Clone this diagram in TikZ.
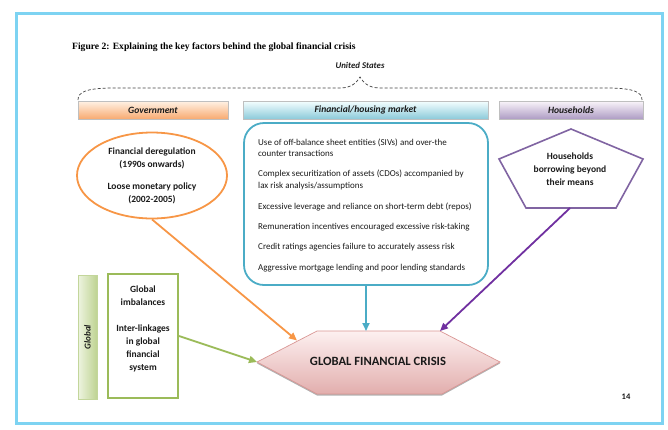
\documentclass[tikz,border=0pt]{standalone}
\usepackage{fontspec}
\setmainfont{Carlito}
\newfontfamily\timesf{Liberation Serif}
\usetikzlibrary{arrows.meta,shapes.geometric,shadows}
\definecolor{frameblue}{HTML}{7DD3F2}
\definecolor{orangeL}{HTML}{F79646}
\definecolor{blueL}{HTML}{4BACC6}
\definecolor{purpleL}{HTML}{7030A0}
\definecolor{pentL}{HTML}{8064A2}
\definecolor{greenL}{HTML}{9BBB59}
\definecolor{gfcB}{HTML}{D99694}
\definecolor{txt}{HTML}{1A1A1A}
\tikzset{
  hdr/.style={minimum height=18pt, inner sep=0pt, draw=black!25, line width=0.4pt,
    font=\bfseries\itshape\fontsize{9.6}{10}\selectfont, text=txt,
    drop shadow={shadow xshift=0.8pt, shadow yshift=-1pt, fill=black!35}},
  itemtxt/.style={anchor=west, inner sep=0pt, align=left, text=txt,
    font=\fontsize{9}{11.5}\selectfont},
  ctxt/.style={inner sep=0pt, align=center, text=txt,
    font=\bfseries\fontsize{9.5}{13}\selectfont},
  conn/.style={line width=1.8pt, -{Triangle[length=8pt,width=7pt]}},
}
\begin{document}
\begin{tikzpicture}[x=1pt,y=-1pt]
\useasboundingbox (0,0) rectangle (668,429);
\draw[frameblue, line width=3pt] (16,13) rectangle (662,423);

\node[anchor=west, inner sep=0pt, font=\timesf\bfseries\fontsize{9.6}{10}\selectfont] (title) at (72,47)
  {Figure 2: Explaining the key factors behind the global financial crisis};

\node[inner sep=0pt, text=txt, font=\bfseries\itshape\fontsize{8.8}{9}\selectfont] (us) at (360,65) {United States};

% dashed brace
\draw[black!75, dash pattern=on 3pt off 2pt, line width=0.7pt]
  (78,100) .. controls (78,92) and (86,88.5) .. (110,88) -- (340,88)
  .. controls (352,88) and (357,82) .. (360,77)
  .. controls (363,82) and (368,88) .. (380,88) -- (610,88)
  .. controls (634,88.5) and (642,92) .. (642,100);

% header bars
\node[hdr, minimum width=150pt, top color=orange!10, bottom color={rgb,255:red,248;green,170;blue,112}] (govh) at (153,110) {Government};
\node[hdr, minimum width=245pt, top color=cyan!4, bottom color={rgb,255:red,140;green,202;blue,218}] (finh) at (365.5,110) {Financial/housing market};
\node[hdr, minimum width=144pt, top color=violet!4, bottom color={rgb,255:red,174;green,156;blue,196}] (hhh) at (571,110) {Households};

% government ellipse
\node[ellipse, draw=orangeL, line width=1.8pt, minimum width=150pt, minimum height=86pt, ctxt] (gov) at (152,175.5)
  {Financial deregulation\\(1990s onwards)\\[9pt]Loose monetary policy\\(2002-2005)};

% financial box
\node[draw=blueL, line width=1.8pt, rounded corners=20pt, minimum width=244pt, minimum height=162pt] (fin) at (366,204) {};
\node[itemtxt] (f1) at (258,147.5) {Use of off-balance sheet entities (SIVs) and over-the\\counter transactions};
\node[itemtxt] (f2) at (258,180) {Complex securitization of assets (CDOs) accompanied by\\lax risk analysis/assumptions};
\node[itemtxt] (f3) at (258,207) {Excessive leverage and reliance on short-term debt (repos)};
\node[itemtxt] (f4) at (258,227) {Remuneration incentives encouraged excessive risk-taking};
\node[itemtxt] (f5) at (258,247) {Credit ratings agencies failure to accurately assess risk};
\node[itemtxt] (f6) at (258,268) {Aggressive mortgage lending and poor lending standards};

% households pentagon
\coordinate (p1) at (571,129);
\coordinate (p2) at (643,159);
\coordinate (p3) at (616,208);
\coordinate (p4) at (526,208);
\coordinate (p5) at (499,159);
\draw[pentL, line width=1.6pt, line join=miter] (p1) -- (p2) -- (p3) -- (p4) -- (p5) -- cycle;
\node[ctxt] (hh) at (570,169) {Households\\borrowing beyond\\their means};
\coordinate (hhb) at (570,208);

% global bar and box
\node[rotate=90, minimum width=124pt, minimum height=19pt, inner sep=0pt, draw={rgb,255:red,195;green,214;blue,155}, line width=0.6pt,
  left color={rgb,255:red,238;green,244;blue,224}, right color={rgb,255:red,190;green,211;blue,146},
  drop shadow={shadow xshift=0.8pt, shadow yshift=-1pt, fill=black!25},
  font=\bfseries\itshape\fontsize{9}{9}\selectfont, text=txt] (glob) at (87.5,337) {Global};
\node[draw=greenL, line width=2pt, minimum width=70pt, minimum height=124pt] (gbox) at (143,336) {};
\node[ctxt] (gtxt) at (143,329) {Global\\imbalances\\[13pt]Inter-linkages\\in global\\financial\\system};

% GFC hexagon
\coordinate (h1) at (257,362);
\coordinate (h2) at (317,331);
\coordinate (h3) at (440,331);
\coordinate (h4) at (500,362);
\coordinate (h5) at (442,394);
\coordinate (h6) at (317,394);
\fill[black!30] ([yshift=-1.5pt]h1) -- ([yshift=-1.5pt]h2) -- ([yshift=-1.5pt]h3) -- ([yshift=-1.5pt]h4) -- ([yshift=-1.5pt]h5) -- ([yshift=-1.5pt]h6) -- cycle;
\shade[top color={rgb,255:red,253;green,240;blue,240}, bottom color={rgb,255:red,226;green,174;blue,173}, draw=gfcB, line width=0.7pt]
  (h1) -- (h2) -- (h3) -- (h4) -- (h5) -- (h6) -- cycle;
\node[inner sep=0pt, text=txt, font=\bfseries\fontsize{12.6}{13}\selectfont] (gfc) at (378,361) {GLOBAL FINANCIAL CRISIS};
\coordinate (gfcOr) at (297,340.5);
\coordinate (gfcBl) at (366,331);

% connectors
\draw[conn, orangeL] (gov.south) -- (gfcOr);
\draw[conn, blueL] (fin.south) -- (gfcBl);
\draw[conn, purpleL] (hhb) -- (h3);
\draw[conn, greenL] (gbox.east) -- (h1);

\node[inner sep=0pt, text=txt, font=\bfseries\fontsize{8.5}{9}\selectfont] (pg) at (626,397) {14};
\end{tikzpicture}
\end{document}
